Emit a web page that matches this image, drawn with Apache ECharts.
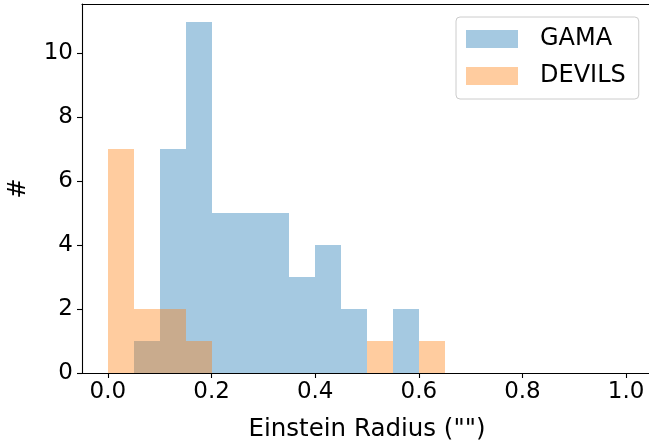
<!DOCTYPE html>
<html>
<head>
<meta charset="utf-8">
<script src="https://cdn.jsdelivr.net/npm/echarts@6/dist/echarts.min.js"></script>
<style>html,body{margin:0;padding:0;background:#fff;}#c{width:649px;height:444px;}</style>
</head>
<body>
<div id="c"></div>
<script>
// Histogram bin edges (width 0.05)
var binLeft  = [0.00,0.05,0.10,0.15,0.20,0.25,0.30,0.35,0.40,0.45,0.50,0.55,0.60,0.65,0.70,0.75,0.80,0.85,0.90,0.95];
var binRight = [0.05,0.10,0.15,0.20,0.25,0.30,0.35,0.40,0.45,0.50,0.55,0.60,0.65,0.70,0.75,0.80,0.85,0.90,0.95,1.00];
var gamaCounts   = [0,1,7,11,5,5,5,3,4,2,0,2,0,0,0,0,0,0,0,0];
var devilsCounts = [7,2,2,1,0,0,0,0,0,0,1,0,1,0,0,0,0,0,0,0];
var xTicks = [0.0,0.2,0.4,0.6,0.8,1.0];
var yTicks = [0,2,4,6,8,10];
var seriesNames = ['GAMA','DEVILS'];

var gamaColor = 'rgba(31,119,180,0.4)';
var devilsColor = 'rgba(255,127,14,0.4)';
var FONT = 'DejaVu Sans';

function toData(counts){
  var d = [];
  for (var i=0;i<counts.length;i++){ if (counts[i]>0) d.push([binLeft[i], binRight[i], counts[i]]); }
  return d;
}
function makeRender(color){
  return function(params, api){
    var p0 = api.coord([api.value(0), 0]);
    var p1 = api.coord([api.value(1), api.value(2)]);
    var x0 = Math.round(p0[0]), x1 = Math.round(p1[0]);
    var yb = Math.round(p0[1]), yt = Math.round(p1[1]);
    return {type:'rect', shape:{x:x0, y:yt, width:x1-x0, height:yb-yt}, style:{fill:color}};
  };
}

var chart = echarts.init(document.getElementById('c'), null, {renderer:'canvas'});
chart.setOption({
  animation:false,
  backgroundColor:'#fff',
  grid:{left:82, top:4, width:570, height:369, outerBoundsMode:'none', containLabel:false, show:false},
  legend:{
    show:true, left:456, top:17, orient:'vertical',
    data:seriesNames, icon:'rect', itemWidth:52, itemHeight:18, itemGap:13,
    padding:[10,13,11,10],
    backgroundColor:'rgba(255,255,255,0.8)', borderColor:'#cccccc', borderWidth:1, borderRadius:4,
    textStyle:{fontFamily:FONT, fontSize:24, color:'#000', padding:[0,0,0,17]}
  },
  xAxis:[{
    type:'value', min:-0.05, max:1.05, position:'bottom',
    name:'Einstein Radius ("")', nameLocation:'middle', nameGap:44,
    nameTextStyle:{fontFamily:FONT, fontSize:24.5, color:'#000'},
    axisLine:{show:true, onZero:false, lineStyle:{color:'#000', width:1.1}},
    axisTick:{show:true, length:5, inside:false, customValues:xTicks, lineStyle:{color:'#000', width:1.1}},
    axisLabel:{fontFamily:FONT, fontSize:23, color:'#000', margin:8, customValues:xTicks, formatter:function(v){return v.toFixed(1);}},
    splitLine:{show:false}
  },{
    type:'value', min:-0.05, max:1.05, position:'top',
    axisLine:{show:true, onZero:false, lineStyle:{color:'#000', width:1.1}},
    axisTick:{show:false}, axisLabel:{show:false}, splitLine:{show:false}
  }],
  yAxis:{
    type:'value', min:0, max:11.55,
    name:'#', nameLocation:'middle', nameGap:51, nameRotate:90,
    nameTextStyle:{fontFamily:FONT, fontSize:24, color:'#000'},
    axisLine:{show:true, onZero:false, lineStyle:{color:'#000', width:1.1}},
    axisTick:{show:true, length:5, customValues:yTicks, lineStyle:{color:'#000', width:1.1}},
    axisLabel:{fontFamily:FONT, fontSize:23, color:'#000', margin:9, customValues:yTicks},
    splitLine:{show:false}
  },
  series:[
    {name:seriesNames[0], type:'custom', xAxisIndex:0, renderItem:makeRender(gamaColor), itemStyle:{color:gamaColor}, encode:{x:[0,1], y:2}, data:toData(gamaCounts), z:2},
    {name:seriesNames[1], type:'custom', xAxisIndex:0, renderItem:makeRender(devilsColor), itemStyle:{color:devilsColor}, encode:{x:[0,1], y:2}, data:toData(devilsCounts), z:3}
  ]
});
</script>
</body>
</html>
